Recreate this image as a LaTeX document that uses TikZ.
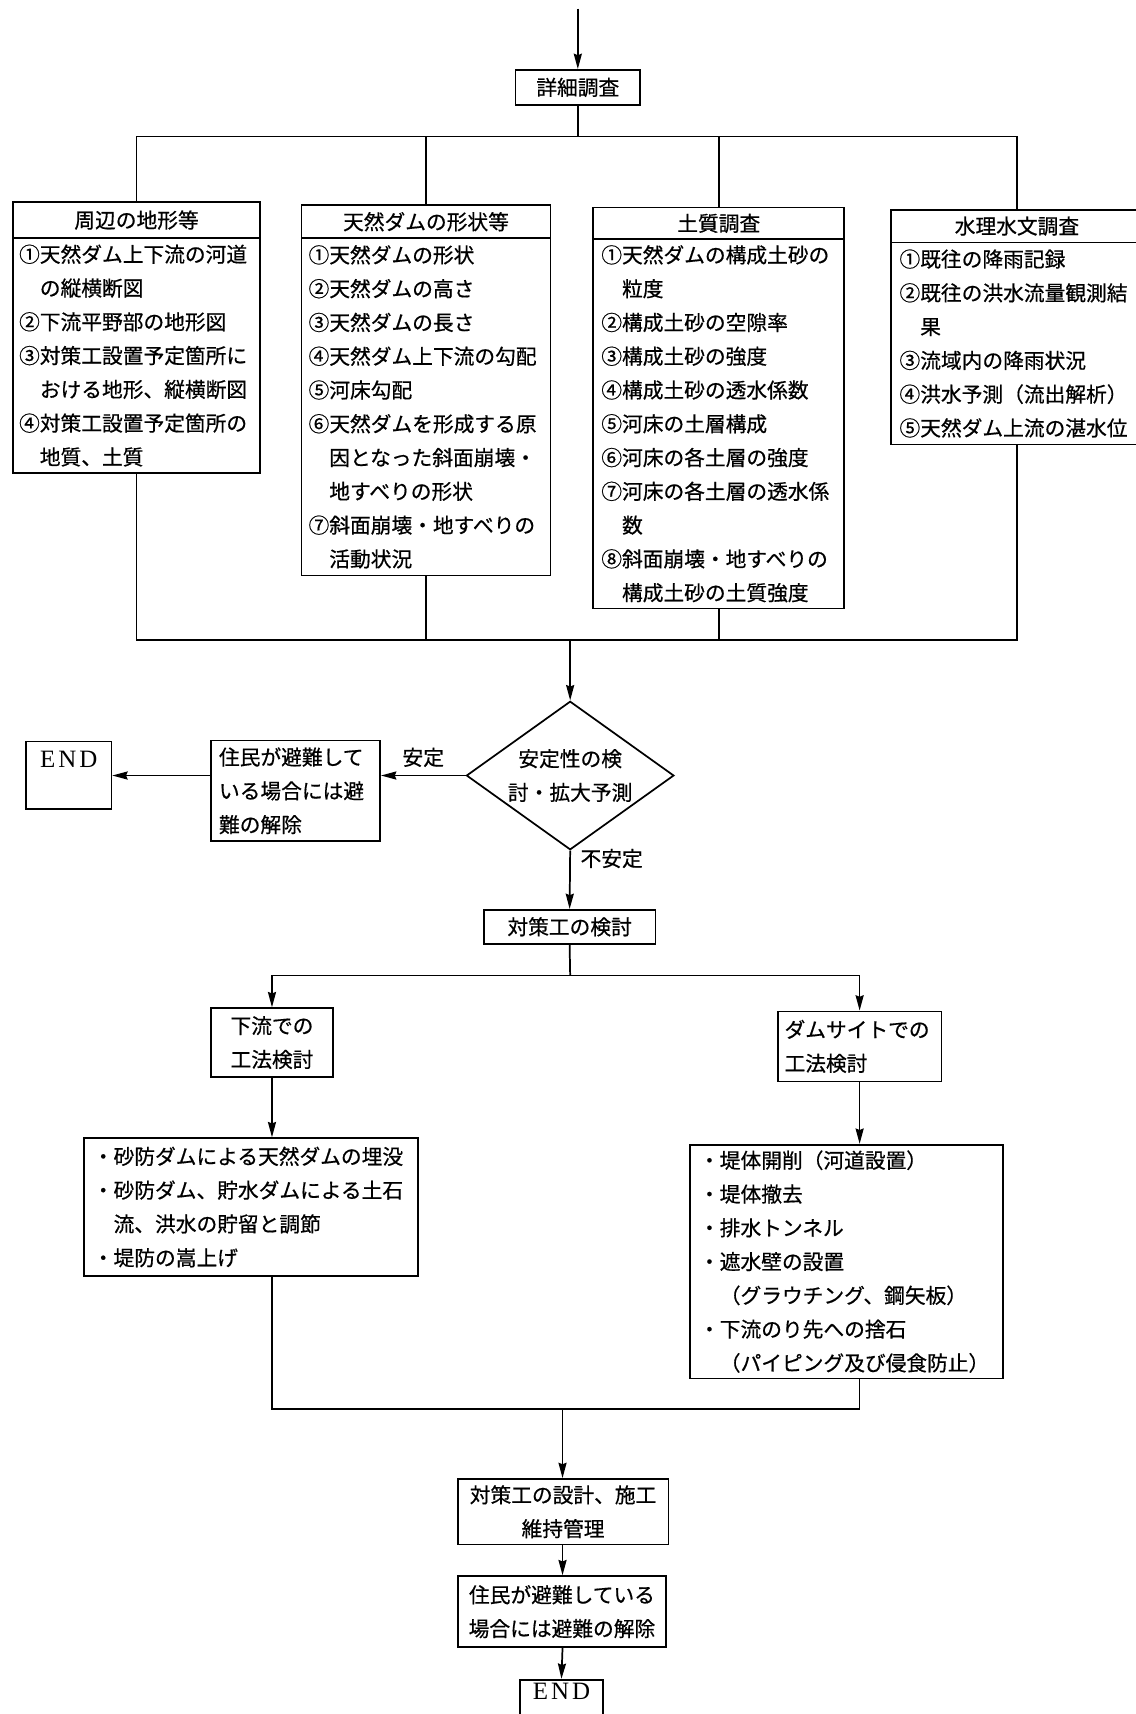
\documentclass[tikz,border=0pt]{standalone}
\usepackage{fontspec}
\setmainfont{Noto Sans CJK JP}[FakeBold=0.6]
\newfontfamily\endfont[LetterSpace=12]{Liberation Serif}
\usetikzlibrary{arrows.meta,shapes.geometric}
\begin{document}
\begin{tikzpicture}[x=0.02cm,y=-0.02cm,
  line width=0.9pt,
  every node/.style={font=\fontsize{10.8}{17.6}\selectfont, inner sep=0pt},
  sz/.style 2 args={minimum width=#1*0.02cm, minimum height=#2*0.02cm},
  box/.style={draw, line width=0.9pt, inner sep=0pt},
  lst/.style={box, align=left},
  endbox/.style={draw, line width=0.9pt, inner sep=0pt, font=\endfont\fontsize{13}{15}\selectfont},
  lbl/.style={font=\fontsize{10.8}{17.6}\selectfont},
  arr/.style={-{Stealth[length=8pt,width=4.2pt,inset=0.8pt]}}]
\useasboundingbox (0,0) rectangle (1040,1569.2);
\fill[white] (0,0) rectangle (1040,1569.2);

% top
\coordinate (in) at (529,8);
\node[box, sz={114}{32}] (t) at (529,80) {詳細調査};
\draw[arr] (in) -- (t.north);

% four survey boxes
\node[box, sz={226}{33}] (h1) at (125,201.5) {周辺の地形等};
\node[lst, sz={226}{215}, text width=4.3cm] (b1) at (125,325.5) {①天然ダム上下流の河道\\　の縦横断図\\②下流平野部の地形図\\③対策工設置予定箇所に\\　おける地形、縦横断図\\④対策工設置予定箇所の\\　地質、土質};

\node[box, sz={228}{30}] (h2) at (390,203) {天然ダムの形状等};
\node[lst, sz={228}{309}, text width=4.3cm] (b2) at (390,372.5) {①天然ダムの形状\\②天然ダムの高さ\\③天然ダムの長さ\\④天然ダム上下流の勾配\\⑤河床勾配\\⑥天然ダムを形成する原\\　因となった斜面崩壊・\\　地すべりの形状\\⑦斜面崩壊・地すべりの\\　活動状況};

\node[box, sz={230}{29}] (h3) at (658,204.5) {土質調査};
\node[lst, sz={230}{338}, text width=4.3cm] (b3) at (658,388) {①天然ダムの構成土砂の\\　粒度\\②構成土砂の空隙率\\③構成土砂の強度\\④構成土砂の透水係数\\⑤河床の土層構成\\⑥河床の各土層の強度\\⑦河床の各土層の透水係\\　数\\⑧斜面崩壊・地すべりの\\　構成土砂の土質強度};

\node[box, sz={230}{30}] (h4) at (931,207) {水理水文調査};
\node[lst, sz={230}{185}, text width=4.3cm] (b4) at (931,314.5) {①既往の降雨記録\\②既往の洪水流量観測結\\　果\\③流域内の降雨状況\\④洪水予測（流出解析）\\⑤天然ダム上流の湛水位};

% distribution
\coordinate (j1) at (529,125);
\draw (t.south) -- (j1);
\draw (h1.north) |- (j1) -| (h4.north);
\draw (h2.north) -- (h2.north |- j1);
\draw (h3.north) -- (h3.north |- j1);

% collection
\coordinate (j2) at (522,586);
\draw (b1.south) |- (j2) -| (b4.south);
\draw (b2.south) -- (b2.south |- j2);
\draw (b3.south) -- (b3.south |- j2);

% decision
\node[draw, diamond, aspect=1.4, minimum width=3.8cm, minimum height=2.72cm, inner sep=0pt, align=center] (dia) at (522,710) {安定性の検\\討・拡大予測};
\draw[arr] (j2) -- (dia.north);

\node[lst, sz={155}{92}, text width=2.8cm] (r1) at (270.5,724) {住民が避難して\\いる場合には避\\難の解除};
\node[endbox, minimum width=1.56cm, text height=0.47cm, text depth=0.77cm, anchor=north] (e1) at (63,678) {END};
\draw[arr] (dia.west) -- (dia.west -| r1.east) node[lbl, midway, above=4pt] (s1) {安定};
\draw[arr] (dia.west -| r1.west) -- (dia.west -| e1.east);

\node[box, sz={157}{31}] (k) at (521.5,848.5) {対策工の検討};
\draw[arr] (dia.south) -- (k.north);
\node[lbl] (s2) at (560,786) {不安定};

% two branches
\coordinate (j3) at (522,893);
\node[box, sz={112}{63}, align=center] (d1) at (249,954.5) {下流での\\工法検討};
\node[lst, sz={150}{64}, text width=2.75cm] (d2) at (787,958) {ダムサイトでの\\工法検討};
\draw (k.south) -- (j3);
\draw[arr] (j3) -| (d1.north);
\draw[arr] (j3) -| (d2.north);

\node[lst, sz={306}{126}, text width=5.8cm] (m1) at (230,1105) {・砂防ダムによる天然ダムの埋没\\・砂防ダム、貯水ダムによる土石\\\phantom{・}流、洪水の貯留と調節\\・堤防の嵩上げ};
\node[lst, sz={286}{214}, text width=5.4cm] (m2) at (775,1155) {・堤体開削（河道設置）\\・堤体撤去\\・排水トンネル\\・遮水壁の設置\\\phantom{・}（グラウチング、鋼矢板）\\・下流のり先への捨石\\\phantom{・}（パイピング及び侵食防止）};
\draw[arr] (d1.south) -- (d1.south |- m1.north);
\draw[arr] (d2.south) -- (d2.south |- m2.north);

% merge
\coordinate (j4) at (515,1290);
\draw (m1.south -| d1.south) |- (j4) -| (m2.south -| d2.south);

\node[box, sz={193}{60}, align=center] (f1) at (515.5,1384) {対策工の設計、施工\\維持管理};
\node[box, sz={191}{65}, align=center] (f2) at (514.5,1475.5) {住民が避難している\\場合には避難の解除};
\node[endbox, minimum width=1.52cm, text height=0.37cm, text depth=0.35cm, anchor=north] (e2) at (514,1537) {END};
\draw[arr] (j4) -- (j4 |- f1.north);
\draw[arr] (f1.south -| j4) -- (f2.north -| j4);
\draw[arr] (f2.south -| j4) -- (e2.north);
\end{tikzpicture}
\end{document}
